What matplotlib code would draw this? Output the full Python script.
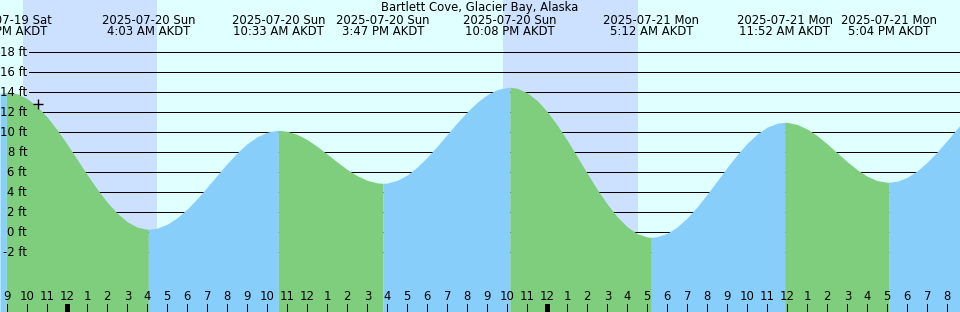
import matplotlib
matplotlib.use("Agg")
import matplotlib.pyplot as plt
"""
    Bartlett Cove tide graph (XTide style), hours counted from 2025-07-20 00:00 AKDT
"""

title = "Bartlett Cove, Glacier Bay, Alaska"

# high / low water: time (hours from midnight Jul 20) and height (ft)
extreme_times = [-3.05, 4.05, 10.55, 15.783, 22.133, 29.2, 35.867, 41.067]
extreme_heights = [14.0, 0.3, 10.2, 4.9, 14.5, -0.5, 11.0, 5.0]
extreme_dates = ["2025-07-19 Sat", "2025-07-20 Sun", "2025-07-20 Sun", "2025-07-20 Sun",
                 "2025-07-20 Sun", "2025-07-21 Mon", "2025-07-21 Mon", "2025-07-21 Mon"]
extreme_clock = ["8:57 PM AKDT", "4:03 AM AKDT", "10:33 AM AKDT", "3:47 PM AKDT",
                 "10:08 PM AKDT", "5:12 AM AKDT", "11:52 AM AKDT", "5:04 PM AKDT"]

# tide height read every half hour, 9:00 PM Jul 19 .. 8:30 PM Jul 21
half_times = [i / 2 for i in range(-6, 90)]
half_heights = [13.99, 13.85, 13.36, 12.57, 11.51, 10.22, 8.79, 7.27, 5.75, 4.30,
                2.99, 1.89, 1.05, 0.51, 0.31, 0.42, 0.81, 1.47, 2.34, 3.38,
                4.53, 5.73, 6.89, 7.96, 8.87, 9.57, 10.02, 10.20, 10.10, 9.78,
                9.26, 8.58, 7.81, 7.02, 6.28, 5.65, 5.19, 4.94, 4.93, 5.20,
                5.74, 6.53, 7.51, 8.62, 9.80, 10.97, 12.06, 13.01, 13.77, 14.27,
                14.49, 14.40, 13.95, 13.16, 12.06, 10.71, 9.19, 7.55, 5.89, 4.28,
                2.81, 1.55, 0.54, -0.14, -0.47, -0.44, -0.10, 0.55, 1.45, 2.56,
                3.82, 5.16, 6.50, 7.78, 8.91, 9.85, 10.53, 10.91, 10.99, 10.78,
                10.32, 9.66, 8.83, 7.94, 7.05, 6.25, 5.60, 5.17, 5.00, 5.11,
                5.50, 6.15, 7.02, 8.05, 9.20, 10.38]
# heights at the left and right edge of the graph
edge_times = [-3.365, 44.635]
edge_heights = [13.9, 10.69]

# hour ticks along the bottom
hour_times = list(range(-3, 45))

# night (sunset .. sunrise)
night_start = [-2.215, 21.785]
night_end = [4.485, 28.535]

# "now" mark
now_time = -1.49
now_height = 12.8

grid_levels = [-2, 0, 2, 4, 6, 8, 10, 12, 14, 16, 18]

DAY = "#e0ffff"
NIGHT = "#cce0ff"
FALL = "#7ece7e"
RISE = "#87cefa"

XMIN, XMAX = -3.365, 44.635
YMIN, YMAX = -7.97, 23.23
W, H = 960, 312
FS = 8.4


def build_curve():
    pts = list(zip(half_times, half_heights)) + list(zip(edge_times, edge_heights))
    pts += list(zip(extreme_times, extreme_heights))
    pts.sort()
    t = [p[0] for p in pts]
    h = [p[1] for p in pts]
    return t, h


def draw():
    fig = plt.figure(figsize=(W / 100, H / 100), dpi=100)
    fig.patch.set_facecolor(DAY)
    ax = fig.add_axes([0, 0, 1, 1])
    ax.set_facecolor(DAY)
    ax.set_xlim(XMIN, XMAX)
    ax.set_ylim(YMIN, YMAX)
    ax.axis("off")

    for s, e in zip(night_start, night_end):
        ax.axvspan(s, e, color=NIGHT, lw=0, zorder=0)

    for lv in grid_levels:
        ax.axhline(lv, xmin=29 / W, xmax=1, color="black", lw=0.6, antialiased=False, zorder=1)

    t, h = build_curve()
    # split at the extremes: falling runs green, rising runs blue
    cuts = [0] + [t.index(x) for x in extreme_times] + [len(t) - 1]
    for a, b in zip(cuts[:-1], cuts[1:]):
        seg_t = t[a:b + 1]
        seg_h = h[a:b + 1]
        color = FALL if seg_h[-1] < seg_h[0] else RISE
        ax.fill_between(seg_t, seg_h, YMIN, color=color, lw=0, antialiased=False, zorder=2)

    ax.plot([now_time], [now_height], marker="+", color="black", ms=7, mew=1, zorder=4)

    ylab = ax.get_yaxis_transform()
    for lv in grid_levels:
        ax.text(27 / W, lv, f"{lv} ft", transform=ylab, ha="right", va="center",
                fontsize=FS, zorder=5)

    xlab = ax.get_xaxis_transform()
    for tm, d, c in zip(extreme_times, extreme_dates, extreme_clock):
        ax.text(tm, 1 - 20 / H, d, transform=xlab, ha="center", va="center", fontsize=FS, zorder=5)
        ax.text(tm, 1 - 31.5 / H, c, transform=xlab, ha="center", va="center", fontsize=FS, zorder=5)
    ax.text(0.5, 1 - 7 / H, title, transform=ax.transAxes, ha="center", va="center",
            fontsize=FS, zorder=5)

    for hr in hour_times:
        lab = hr % 12
        if lab == 0:
            lab = 12
        midnight = hr % 24 == 0
        ax.vlines(hr, 0, 8 / H, transform=xlab, color="black",
                  lw=2.2 if midnight else 0.6, antialiased=False, zorder=5)
        ax.text(hr, 1 - 296.5 / H, str(lab), transform=xlab, ha="center", va="center",
                fontsize=FS, zorder=5)

    fig.savefig("out.png", dpi=100, facecolor=DAY)


if __name__ == '__main__':
    draw()
